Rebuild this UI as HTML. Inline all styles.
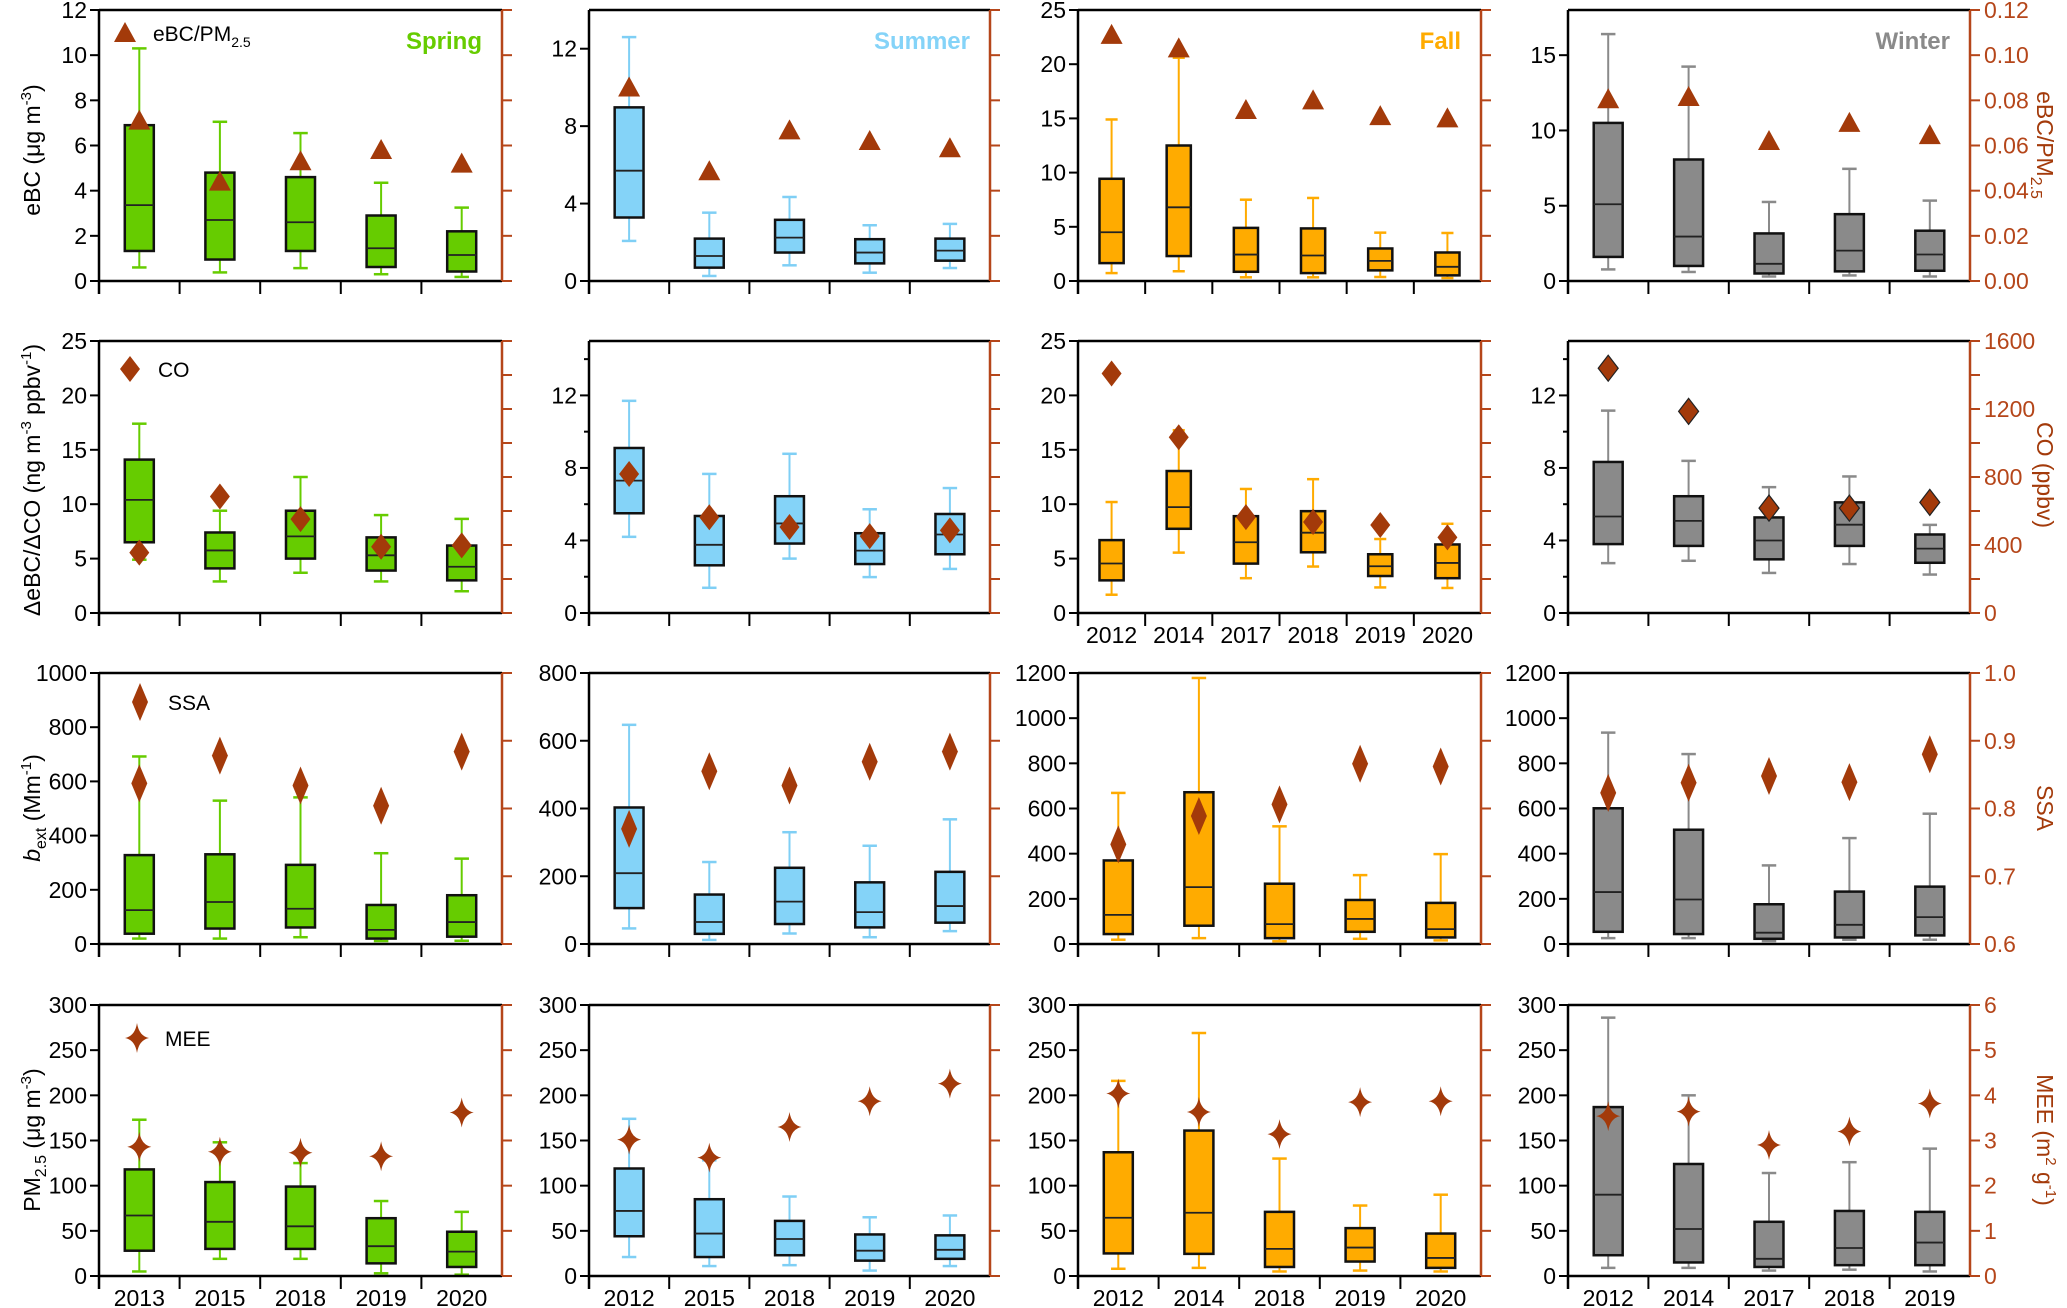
<!DOCTYPE html>
<html><head><meta charset="utf-8"><style>
html,body{margin:0;padding:0;background:#fff;}
svg{display:block;font-family:"Liberation Sans",Arial,sans-serif;}
</style></head><body>
<svg id="fig" width="2067" height="1308" viewBox="0 0 2067 1308" xmlns="http://www.w3.org/2000/svg">
<g id="titles">
<text transform="translate(40,150) rotate(-90)" text-anchor="middle" font-size="23">eBC (μg m<tspan dy="-9" font-size="15">-3</tspan><tspan dy="9">)</tspan></text>
<text transform="translate(40,480) rotate(-90)" text-anchor="middle" font-size="23">ΔeBC/ΔCO (ng m<tspan dy="-9" font-size="15">-3</tspan><tspan dy="9"> ppbv</tspan><tspan dy="-9" font-size="15">-1</tspan><tspan dy="9">)</tspan></text>
<text transform="translate(40,808) rotate(-90)" text-anchor="middle" font-size="23"><tspan font-style="italic">b</tspan><tspan dy="6" font-size="16">ext</tspan><tspan dy="-6"> (Mm</tspan><tspan dy="-9" font-size="15">-1</tspan><tspan dy="9">)</tspan></text>
<text transform="translate(40,1140) rotate(-90)" text-anchor="middle" font-size="23">PM<tspan dy="6" font-size="16">2.5</tspan><tspan dy="-6"> (μg m</tspan><tspan dy="-9" font-size="15">-3</tspan><tspan dy="9">)</tspan></text>
<text transform="translate(2037,145) rotate(90)" text-anchor="middle" font-size="23" fill="#a33a0a">eBC/PM<tspan dy="6" font-size="16">2.5</tspan></text>
<text transform="translate(2037,475) rotate(90)" text-anchor="middle" font-size="23" fill="#a33a0a">CO (ppbv)</text>
<text transform="translate(2037,808) rotate(90)" text-anchor="middle" font-size="23" fill="#a33a0a">SSA</text>
<text transform="translate(2037,1140) rotate(90)" text-anchor="middle" font-size="23" fill="#a33a0a">MEE (m<tspan dy="-9" font-size="15">2</tspan><tspan dy="9"> g</tspan><tspan dy="-9" font-size="15">-1</tspan><tspan dy="9">)</tspan></text>
</g>
</svg>
<script>
// categories
const yearsSpring = ["2013","2015","2018","2019","2020"];
const yearsSummer = ["2012","2015","2018","2019","2020"];
const yearsFallA = ["2012","2014","2017","2018","2019","2020"];
const yearsFallB = ["2012","2014","2018","2019","2020"];
const yearsWinter = ["2012","2014","2017","2018","2019"];
// box stats [min,q1,median,q3,max]
const ebcSpring = [[0.6,1.33,3.36,6.9,10.3],[0.38,0.95,2.7,4.8,7.05],[0.57,1.33,2.6,4.6,6.55],[0.3,0.62,1.45,2.9,4.35],[0.18,0.42,1.15,2.2,3.25]];
const ebcSummer = [[2.07,3.28,5.7,8.97,12.6],[0.26,0.69,1.29,2.19,3.53],[0.81,1.47,2.24,3.16,4.34],[0.43,0.91,1.47,2.16,2.88],[0.67,1.05,1.57,2.19,2.95]];
const ebcFall = [[0.73,1.65,4.5,9.43,14.9],[0.9,2.3,6.8,12.5,20.6],[0.34,0.85,2.44,4.9,7.5],[0.34,0.73,2.35,4.85,7.66],[0.37,0.98,1.86,3.0,4.46],[0.27,0.52,1.31,2.63,4.43]];
const ebcWinter = [[0.77,1.6,5.1,10.5,16.4],[0.6,1.0,2.95,8.07,14.24],[0.3,0.5,1.14,3.16,5.25],[0.37,0.64,2.02,4.44,7.45],[0.3,0.68,1.76,3.34,5.34]];
const ratioSpring = [0.071,0.044,0.053,0.058,0.052];
const ratioSummer = [0.0857,0.0486,0.0667,0.062,0.0588];
const ratioFall = [0.109,0.103,0.0757,0.080,0.073,0.072];
const ratioWinter = [0.0805,0.0815,0.062,0.070,0.0646];
const dcoSpring = [[4.9,6.5,10.4,14.1,17.4],[2.9,4.1,5.75,7.4,9.4],[3.7,5.0,7.04,9.4,12.5],[2.9,3.9,5.3,6.95,9.0],[2.0,3.0,4.25,6.2,8.65]];
const dcoSummer = [[4.2,5.5,7.3,9.1,11.7],[1.39,2.63,3.76,5.35,7.67],[3.0,3.83,4.94,6.44,8.78],[1.98,2.7,3.44,4.4,5.72],[2.43,3.24,4.33,5.46,6.89]];
const dcoFall = [[1.68,3.0,4.55,6.7,10.2],[5.55,7.74,9.73,13.05,16.8],[3.2,4.54,6.5,8.9,11.4],[4.27,5.58,7.38,9.36,12.3],[2.35,3.4,4.3,5.4,6.8],[2.3,3.2,4.6,6.3,8.2]];
const dcoWinter = [[2.75,3.8,5.32,8.33,11.16],[2.88,3.7,5.08,6.44,8.39],[2.21,2.96,4.0,5.27,6.94],[2.7,3.7,4.87,6.1,7.53],[2.12,2.77,3.55,4.33,4.86]];
const coSpring = [355,685,552,390,398];
const coSummer = [818,563,506,452,486];
const coFall = [1409,1034,564,535,518,445];
const coWinter = [1440,1186,617,617,651];
const bextSpring = [[20,38,125,328,692],[20,57,155,331,529],[25,61,130,292,541],[11,20,52,144,335],[12,27,81,180,315]];
const bextSummer = [[46,106,209,403,647],[12,30,65,146,242],[31,59,125,225,330],[20,49,94,182,290],[38,63,112,213,368]];
const bextFall = [[19,44,129,370,669],[26,81,252,672,1178],[12,26,88,267,521],[23,54,111,195,305],[16,29,66,182,398]];
const bextWinter = [[26,54,230,601,936],[26,44,197,506,841],[13,23,50,176,348],[19,29,85,232,469],[19,38,119,254,577]];
const ssaSpring = [0.837,0.878,0.834,0.804,0.884];
const ssaSummer = [0.770,0.855,0.834,0.869,0.884];
const ssaFall = [0.747,0.789,0.806,0.866,0.862];
const ssaWinter = [0.823,0.838,0.848,0.839,0.88];
const pmSpring = [[5,28,67,118,173],[19,30,60,104,148],[19,30,55,99,125],[3,14,33,64,83],[1.5,10,27,49,71]];
const pmSummer = [[21,44,72,119,174],[11,21,47,85,128],[12,23,41,61,88],[6,17,28,46,65],[11,19,29,45,67]];
const pmFall = [[8,25,64.5,137,216],[9,24.5,70,161,269],[5,10,30,71,130],[6,16,31.5,53,78],[5,9,20,47,90]];
const pmWinter = [[9,23,90,187,286],[9,15,52,124,200],[6,10,19,60,114],[7,12,31,72,126],[5,12,37,71,141]];
const meeSpring = [2.86,2.75,2.73,2.65,3.62];
const meeSummer = [3.02,2.62,3.3,3.87,4.26];
const meeFall = [4.04,3.63,3.14,3.85,3.87];
const meeWinter = [3.54,3.64,2.9,3.2,3.82];
// left axis ranges / ticks
const leftMax = [[12,14,25,18],[25,15,25,15],[1000,800,1200,1200],[300,300,300,300]];
const leftTicks = [[[0,2,4,6,8,10,12],[0,4,8,12],[0,5,10,15,20,25],[0,5,10,15]],
 [[0,5,10,15,20,25],[0,4,8,12],[0,5,10,15,20,25],[0,4,8,12]],
 [[0,200,400,600,800,1000],[0,200,400,600,800],[0,200,400,600,800,1000,1200],[0,200,400,600,800,1000,1200]],
 [[0,50,100,150,200,250,300],[0,50,100,150,200,250,300],[0,50,100,150,200,250,300],[0,50,100,150,200,250,300]]];
const leftMinor = [[[],[],[],[]],[[],[2,6,10,14],[],[2,6,10,14]],[[],[],[],[]],[[],[],[],[]]];
const rightMin = [0,0,0.6,0];
const rightMax = [0.12,1600,1.0,6];
const rightTicks = [[0,0.02,0.04,0.06,0.08,0.10,0.12],[0,200,400,600,800,1000,1200,1400,1600],[0.6,0.7,0.8,0.9,1.0],[0,1,2,3,4,5,6]];
const rightLabels = [["0.00","0.02","0.04","0.06","0.08","0.10","0.12"],["0","","400","","800","","1200","","1600"],["0.6","0.7","0.8","0.9","1.0"],["0","1","2","3","4","5","6"]];

const colL=[99,589,1078,1568], colR=[502,990,1481,1970];
const rowT=[10,341,673,1005], rowB=[281,613,944,1276];
const colFill=["#66cc00","#84d3f8","#ffab00","#8a8a8a"];
const colWhisk=["#66cc00","#7fcff5","#ffab00","#8a8a8a"];
const RED="#b5461a", MK="#a33a0a";
const svg=document.getElementById('fig');
const NS="http://www.w3.org/2000/svg";
function mk(tag,attrs,parent){const e=document.createElementNS(NS,tag);for(const k in attrs)e.setAttribute(k,attrs[k]);(parent||svg).appendChild(e);return e;}

const panels=[
 [[ebcSpring,ratioSpring,yearsSpring],[ebcSummer,ratioSummer,yearsSummer],[ebcFall,ratioFall,yearsFallA],[ebcWinter,ratioWinter,yearsWinter]],
 [[dcoSpring,coSpring,yearsSpring],[dcoSummer,coSummer,yearsSummer],[dcoFall,coFall,yearsFallA],[dcoWinter,coWinter,yearsWinter]],
 [[bextSpring,ssaSpring,yearsSpring],[bextSummer,ssaSummer,yearsSummer],[bextFall,ssaFall,yearsFallB],[bextWinter,ssaWinter,yearsWinter]],
 [[pmSpring,meeSpring,yearsSpring],[pmSummer,meeSummer,yearsSummer],[pmFall,meeFall,yearsFallB],[pmWinter,meeWinter,yearsWinter]]];

function marker(g,r,x,y,outline){
 let d;
 if(r===0) d=`M${x-11},${y+9} L${x},${y-11} L${x+11},${y+9} Z`;
 else if(r===1) d=`M${x},${y-13} L${x+10},${y} L${x},${y+13} L${x-10},${y} Z`;
 else if(r===2) d=`M${x},${y-19} L${x+8},${y} L${x},${y+19} L${x-8},${y} Z`;
 else d=`M${x},${y-15} Q${x+2},${y-2} ${x+12},${y} Q${x+2},${y+2} ${x},${y+15} Q${x-2},${y+2} ${x-12},${y} Q${x-2},${y-2} ${x},${y-15} Z`;
 return mk('path',{d:d,fill:MK,stroke:outline?"#222":"none","stroke-width":1.2},g);
}

for(let r=0;r<4;r++)for(let c=0;c<4;c++){
 const [boxes,marks,years]=panels[r][c];
 const L=colL[c],R=colR[c],T=rowT[r],B=rowB[r];
 const g=mk('g',{});
 
 
 const yL=v=>B-(v/leftMax[r][c])*(B-T);
 const yR=v=>B-((v-rightMin[r])/(rightMax[r]-rightMin[r]))*(B-T);
 const n=years.length, cw=(R-L)/n;
 const xC=i=>L+cw*(i+0.5);
 leftTicks[r][c].forEach(v=>{
  mk('line',{x1:L-9,x2:L,y1:yL(v),y2:yL(v),stroke:"#000","stroke-width":2},g);
  const t=mk('text',{x:L-12,y:yL(v)+8,"text-anchor":"end","font-size":23},g);t.textContent=String(v);
  
  
 });
 leftMinor[r][c].forEach(v=>mk('line',{x1:L-5,x2:L,y1:yL(v),y2:yL(v),stroke:"#000","stroke-width":2},g));
 rightTicks[r].forEach((v,i)=>{
  mk('line',{x1:R,x2:R+10,y1:yR(v),y2:yR(v),stroke:RED,"stroke-width":2},g);
  if(c===3&&rightLabels[r][i]){const t=mk('text',{x:R+14,y:yR(v)+8,"font-size":23,fill:RED},g);t.textContent=rightLabels[r][i];
   
   }
 });
 for(let i=0;i<=n-1;i++){mk('line',{x1:L+cw*i,x2:L+cw*i,y1:B,y2:B+13,stroke:"#000","stroke-width":2},g);}
 boxes.forEach((b,i)=>{
  const x=xC(i), bw=cw*0.36, cap=cw*0.18;
  const bg=mk('g',{},g);
  
  
  mk('line',{x1:x,x2:x,y1:yL(b[0]),y2:yL(b[4]),stroke:colWhisk[c],"stroke-width":2},bg);
  mk('line',{x1:x-cap/2,x2:x+cap/2,y1:yL(b[0]),y2:yL(b[0]),stroke:colWhisk[c],"stroke-width":2.5},bg);
  mk('line',{x1:x-cap/2,x2:x+cap/2,y1:yL(b[4]),y2:yL(b[4]),stroke:colWhisk[c],"stroke-width":2.5},bg);
  mk('rect',{x:x-bw/2,y:yL(b[3]),width:bw,height:yL(b[1])-yL(b[3]),fill:colFill[c],stroke:"#111","stroke-width":2.5},bg);
  mk('line',{x1:x-bw/2,x2:x+bw/2,y1:yL(b[2]),y2:yL(b[2]),stroke:"#222","stroke-width":1.8},bg);
 });
 marks.forEach((v,i)=>{const m=marker(g,r,xC(i),yR(v),r===1&&c===3);
  
  });
 mk('line',{x1:L,x2:R,y1:T,y2:T,stroke:"#000","stroke-width":2.5},g);
 mk('line',{x1:L,x2:R,y1:B,y2:B,stroke:"#000","stroke-width":2.5},g);
 mk('line',{x1:L,x2:L,y1:T,y2:B+13,stroke:"#000","stroke-width":2.5},g);
 mk('line',{x1:R,x2:R,y1:T,y2:B,stroke:RED,"stroke-width":2.5},g);
 if(r===3||(r===1&&c===2)){
  years.forEach((yv,i)=>{const t=mk('text',{x:xC(i),y:B+30,"text-anchor":"middle","font-size":23},g);t.textContent=yv;
   
   });
 }
}
const seasons=["Spring","Summer","Fall","Winter"];
seasons.forEach((s,c)=>{const t=mk('text',{x:colR[c]-20,y:49,"text-anchor":"end","font-size":24,"font-weight":"bold",fill:colFill[c]});t.textContent=s;
 
 });
const legY=[33,369,702,1038];
const legTxt=["eBC/PM","CO","SSA","MEE"];
legTxt.forEach((s,r)=>{
 const lg=mk('g',{});
 
 
 const x=[125,130,140,137][r];
 marker(lg,r,x,legY[r],false);
 const t=mk('text',{x:x+28,y:legY[r]+8,"font-size":21},lg);t.textContent=s;
 if(r===0){const sub=mk('tspan',{dy:6,"font-size":14},t);sub.textContent="2.5";}
});
</script>
</body></html>
